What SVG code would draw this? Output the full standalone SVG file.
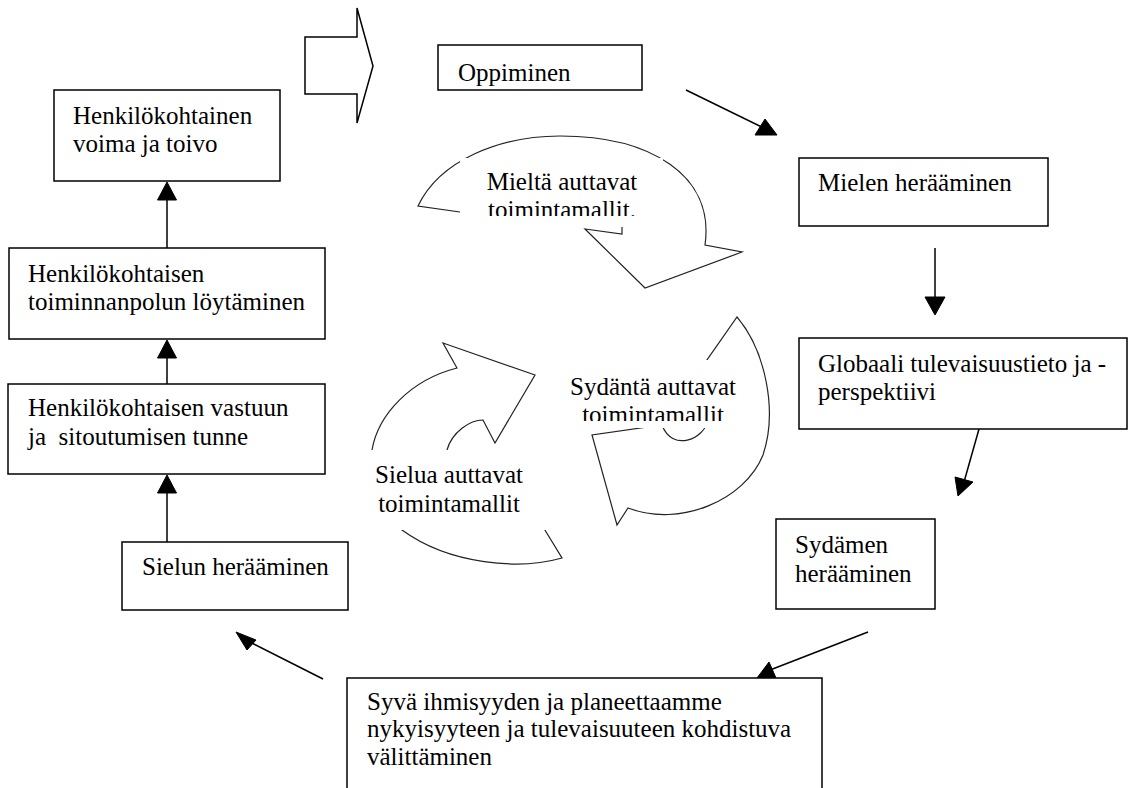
<svg xmlns="http://www.w3.org/2000/svg" width="1129" height="788" viewBox="0 0 1129 788">
<style>
.box{fill:#fff;stroke:#000;stroke-width:1.5}
text{font-family:"Liberation Serif","Times New Roman",serif;font-size:25px;fill:#000}
.c{text-anchor:middle}
.ln{stroke:#000;stroke-width:1.5;fill:none}
.hd{fill:#000;stroke:#000;stroke-width:1;stroke-linejoin:miter}
.circ{fill:none;stroke:#222;stroke-width:1.2;stroke-linejoin:miter}
.mask{fill:#fff;stroke:none}
</style>
<defs>
<clipPath id="clipM"><rect x="440" y="150" width="240" height="66"/></clipPath>
<clipPath id="clipS"><rect x="550" y="360" width="210" height="61"/></clipPath>
</defs>
<rect width="1129" height="788" fill="#fff"/>

<g id="block-arrow">
<polygon class="ln" points="305,37 357,37 357,8 373,66 357,123 357,94 305,94"/>
</g>

<g id="connectors">
<line class="ln" x1="686" y1="90" x2="768" y2="130"/>
<polygon class="hd" points="755,135 777,135 765,119"/>
<line class="ln" x1="935" y1="248" x2="935" y2="299"/>
<polygon class="hd" points="925,297 945,297 935,315"/>
<line class="ln" x1="979" y1="429" x2="964" y2="482"/>
<polygon class="hd" points="955,477 973,482 958,496"/>
<line class="ln" x1="868" y1="632" x2="770" y2="670"/>
<polygon class="hd" points="757,678 776,678 769,662"/>
<line class="ln" x1="323" y1="679" x2="248" y2="641"/>
<polygon class="hd" points="236,632 247,650 256,640"/>
<line class="ln" x1="167" y1="542" x2="167" y2="491"/>
<polygon class="hd" points="157.5,493 176.5,493 167,475"/>
<line class="ln" x1="167" y1="384" x2="167" y2="356"/>
<polygon class="hd" points="157.5,358 176.5,358 167,340"/>
<line class="ln" x1="167" y1="248" x2="167" y2="198"/>
<polygon class="hd" points="157.5,200 176.5,200 167,182"/>
</g>

<g id="n-voima">
<rect class="box" x="54" y="90" width="226" height="91"/>
<text x="73" y="124">Henkilökohtainen</text>
<text x="73" y="152">voima ja toivo</text>
</g>
<g id="n-toiminnanpolku">
<rect class="box" x="9" y="248" width="316" height="91"/>
<text x="28" y="282">Henkilökohtaisen</text>
<text x="28" y="310">toiminnanpolun löytäminen</text>
</g>
<g id="n-vastuu">
<rect class="box" x="8" y="384" width="317" height="90"/>
<text x="28" y="416">Henkilökohtaisen vastuun</text>
<text x="28" y="445" xml:space="preserve">ja  sitoutumisen tunne</text>
</g>
<g id="n-sielun">
<rect class="box" x="122" y="542" width="226" height="68"/>
<text x="142" y="575">Sielun herääminen</text>
</g>
<g id="n-oppiminen">
<rect class="box" x="438" y="45" width="204" height="45"/>
<text x="458" y="81">Oppiminen</text>
</g>
<g id="n-mielen">
<rect class="box" x="799" y="158" width="249" height="68"/>
<text x="818" y="191">Mielen herääminen</text>
</g>
<g id="n-globaali">
<rect class="box" x="799" y="338" width="328" height="91"/>
<text x="818" y="372">Globaali tulevaisuustieto ja -</text>
<text x="818" y="400">perspektiivi</text>
</g>
<g id="n-sydamen">
<rect class="box" x="776" y="519" width="159" height="90"/>
<text x="795" y="553">Sydämen</text>
<text x="795" y="582">herääminen</text>
</g>
<g id="n-syva">
<rect class="box" x="347" y="678" width="475" height="130"/>
<text x="367" y="710">Syvä ihmisyyden ja planeettaamme</text>
<text x="367" y="737">nykyisyyteen ja tulevaisuuteen kohdistuva</text>
<text x="367" y="765">välittäminen</text>
</g>

<g id="n-mielta">
<path class="circ" d="M474,214 L418,206 C440,160 500,136 560,136 C650,136 715,175 705,245 L742,252 L645,288 L585,229 L622,234 L622,222 C600,180 500,180 474,214 Z"/>
<rect class="mask" x="460" y="158" width="203" height="69"/>
<g clip-path="url(#clipM)">
<text class="c" x="562" y="190">Mieltä auttavat</text>
<text class="c" x="562" y="218">toimintamallit.</text>
</g>
</g>

<g id="n-sielua">
<path class="circ" d="M540,522 L562,558 C520,570 450,565 402,530 C380,510 368,480 372,450 C378,415 410,380 457,368 L443,343 L535,375 L495,443 L483,420 C470,420 452,432 447,450 C445,480 500,510 540,522 Z"/>
<rect class="mask" x="363" y="450" width="192" height="80"/>
<text class="c" x="449" y="483">Sielua auttavat</text>
<text class="c" x="449" y="512">toimintamallit</text>
</g>

<g id="n-sydanta">
<path class="circ" d="M700,370 L708,420 C704,440 672,452 662,425 L592,435 L617,525 L628,508 C680,528 745,500 763,455 C778,410 765,350 737,317 Z"/>
<rect class="mask" x="565" y="360" width="177" height="68"/>
<g clip-path="url(#clipS)">
<text class="c" x="653" y="395">Sydäntä auttavat</text>
<text class="c" x="653" y="423">toimintamallit</text>
</g>
</g>
</svg>
